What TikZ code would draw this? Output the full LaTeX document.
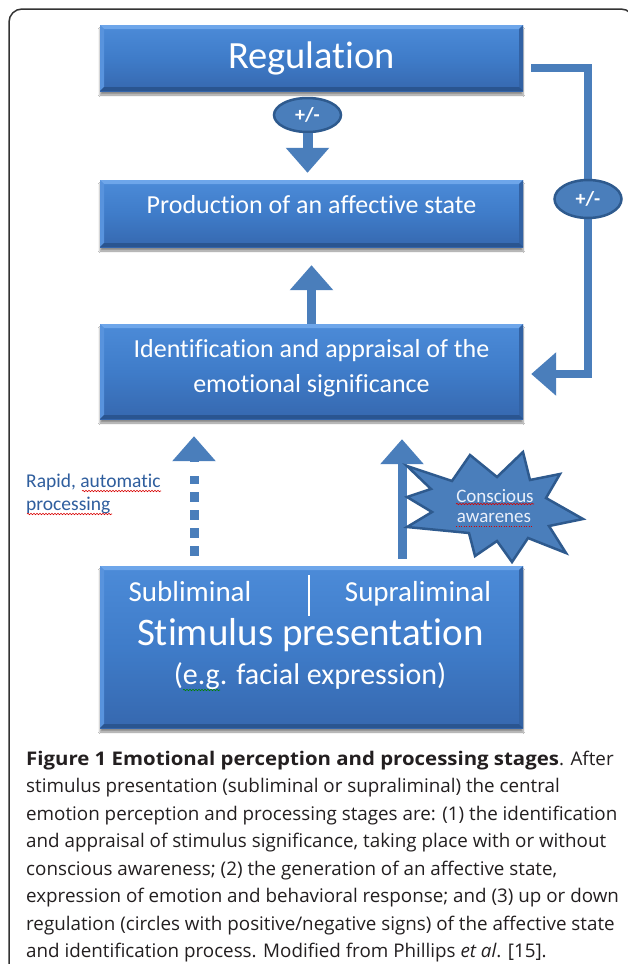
\documentclass[tikz,border=0pt]{standalone}
\usepackage{graphicx}
\usepackage{fontspec}
\setmainfont{Carlito}[Ligatures=NoCommon]
\newfontfamily\capfont{Open Sans}
\usetikzlibrary{arrows.meta,shapes.geometric,shadows.blur,decorations.pathmorphing,calc}
\definecolor{boxtop}{HTML}{4C8BD8}
\definecolor{boxmid}{HTML}{3F7CC9}
\definecolor{boxbot}{HTML}{3668AF}
\definecolor{bevlight}{HTML}{6EA6EA}
\definecolor{bevleft}{HTML}{5893DD}
\definecolor{bevright}{HTML}{3262A4}
\definecolor{bevdark}{HTML}{2A5590}
\definecolor{arrowblue}{HTML}{4A7EBB}
\definecolor{ellline}{HTML}{2E5A8E}
\definecolor{textblue}{HTML}{2F5E9E}
\definecolor{captext}{HTML}{231F20}
\definecolor{framegray}{HTML}{333333}
\definecolor{startext}{HTML}{EAF0FA}
\tikzset{
  bbox/.style={rectangle, inner sep=0pt, minimum width=423pt,
    top color=boxtop, bottom color=boxbot, middle color=boxmid,
    blur shadow={shadow xshift=0pt, shadow yshift=-4pt, shadow opacity=45, shadow blur steps=6},
    path picture={
      \fill[bevlight] (path picture bounding box.north west) -- (path picture bounding box.north east)
        -- ([xshift=-4pt,yshift=-4pt]path picture bounding box.north east)
        -- ([xshift=4pt,yshift=-4pt]path picture bounding box.north west) -- cycle;
      \fill[bevleft] (path picture bounding box.north west) -- ([xshift=4pt,yshift=-4pt]path picture bounding box.north west)
        -- ([xshift=4pt,yshift=4pt]path picture bounding box.south west)
        -- (path picture bounding box.south west) -- cycle;
      \fill[bevright] (path picture bounding box.north east) -- ([xshift=-4pt,yshift=-4pt]path picture bounding box.north east)
        -- ([xshift=-4pt,yshift=4pt]path picture bounding box.south east)
        -- (path picture bounding box.south east) -- cycle;
      \fill[bevdark] (path picture bounding box.south west) -- (path picture bounding box.south east)
        -- ([xshift=-4pt,yshift=4pt]path picture bounding box.south east)
        -- ([xshift=4pt,yshift=4pt]path picture bounding box.south west) -- cycle;
    }},
  wtxt/.style={text=white, inner sep=0pt, anchor=base},
  fatarrow/.style={draw=arrowblue, line width=9pt, -{Triangle[width=42pt,length=25pt]}},
  dashshaft/.style={draw=arrowblue, line width=9pt, dash pattern=on 10pt off 8pt},
  pmell/.style={ellipse, fill=arrowblue, draw=ellline, line width=2.5pt, inner sep=0pt,
    minimum width=67pt, text=white, font=\bfseries\fontsize{20}{22}\selectfont},
  burst/.style={fill=arrowblue, draw=ellline, line width=2.5pt, line join=miter},
  redwave/.style={draw=red!85!black, line width=0.6pt, decorate,
    decoration={snake, segment length=3pt, amplitude=0.7pt}},
  greenwave/.style={draw=green!50!black, line width=0.6pt, decorate,
    decoration={snake, segment length=3pt, amplitude=0.7pt}},
  reddots/.style={draw=red!85!black, line width=0.8pt, dash pattern=on 1pt off 1.5pt},
  captxt/.style={anchor=base west, inner sep=0pt, text=captext, font=\capfont\fontsize{18.8}{22}\selectfont},
  bluetxt/.style={anchor=base west, inner sep=0pt, text=textblue, font=\fontsize{19.5}{22}\selectfont},
  frame/.style={draw=framegray, line width=1.5pt, rounded corners=13pt}
}
\begin{document}
\begin{tikzpicture}[x=1pt,y=-1pt]
\useasboundingbox (0,0) rectangle (627,964);
\fill[white] (0,0) rectangle (627,964);
\draw[frame] (9,9) rectangle (634,1000);

% boxes
\node[bbox, minimum height=66pt] (reg) at (311.5,58) {};
\node[bbox, minimum height=67pt] (prod) at (311.5,213.5) {};
\node[bbox, minimum height=95pt] (ident) at (311.5,371.5) {};
\node[bbox, minimum height=162pt] (stim) at (311.5,647) {};

% box texts
\node[wtxt, font=\fontsize{38.5}{40}\selectfont] (regtxt) at (311.5,68) {Regulation};
\node[wtxt, font=\fontsize{26}{28}\selectfont] (prodtxt) at (311.5,213) {Production of an affective state};
\node[wtxt, font=\fontsize{26}{28}\selectfont] (idtxta) at (311.5,357) {Identification and appraisal of the};
\node[wtxt, font=\fontsize{26}{28}\selectfont] (idtxtb) at (311.5,392) {emotional significance};
\node[wtxt, font=\fontsize{29}{32}\selectfont] (subtxt) at (190,601) {Subliminal};
\node[wtxt, font=\fontsize{29}{32}\selectfont] (suptxt) at (418,601) {Supraliminal};
\draw[white, line width=1.5pt] (309,575) -- (309,616);
\node[wtxt, font=\fontsize{39}{41}\selectfont] (stimtxt) at (310.5,645) {Stimulus presentation};
\node[wtxt, font=\fontsize{30}{32}\selectfont] (egtxt) at (310,684) {(e.g. facial expression)};
\draw[greenwave] (183,690) -- (220,690);

% ellipse 1 and arrow down
\node[pmell, minimum height=34pt] (e1) at (307.5,115) {+/-};
\draw[fatarrow, line width=10pt, shorten >=7pt] (e1.south) -- (e1.south |- prod.north);

% arrow up from identification to production
\draw[fatarrow, shorten >=18pt] (ident.north) -- (prod.south);

% regulation feedback connector
\coordinate (r2) at (588,68);
\coordinate (r3) at (588,374);
\draw[fatarrow, line width=8pt, shorten <=8pt, shorten >=8pt]
  (reg.east |- r2) -- (r2) -- (r3) -- (ident.east |- r3);
\node[pmell, minimum height=38pt] (e2) at (588,199) {+/-};

% dashed subliminal arrow
\coordinate (dx) at (194,0);
\draw[dashshaft, shorten <=10pt, shorten >=57pt] (stim.north -| dx) -- (ident.south -| dx);
\draw[fatarrow, shorten <=104pt, shorten >=17pt] (stim.north -| dx) -- (ident.south -| dx);

% solid supraliminal arrow
\coordinate (sx) at (402,0);
\draw[fatarrow, shorten <=7pt, shorten >=20pt] (stim.north -| sx) -- (ident.south -| sx);

% starburst
\draw[burst] (407,466) -- (452,481) -- (470,455) -- (497,477) -- (523,452) -- (530,480)
  -- (560,474) -- (546,498) -- (583,519) -- (549,526) -- (566,553) -- (528,538)
  -- (512,562) -- (497,541) -- (475,556) -- (469,533) -- (407,527) -- (432,512)
  -- (407,497) -- (431,489) -- cycle;
\node[anchor=base, inner sep=0pt, text=startext, font=\fontsize{19}{21}\selectfont] (constxt) at (495,502) {Conscious};
\node[anchor=base, inner sep=0pt, text=startext, font=\fontsize{19}{21}\selectfont] (awatxt) at (494,522) {awarenes};
\draw[redwave] (456,504) -- (534,504);
\draw[reddots] (456,526) -- (532,526);

% rapid processing label
\node[bluetxt] (rapa) at (26,487) {Rapid, automatic};
\node[bluetxt] (rapb) at (26,510) {processing};
\draw[redwave] (82,491) -- (161,491);
\draw[redwave] (27,514) -- (112,514);

% caption
\node[captxt] (capa) at (26,765) {\scalebox{1.085}[1]{\textbf{Figure 1 Emotional perception and processing stages}}. After};
\node[captxt] (capb) at (26,792.5) {stimulus presentation (subliminal or supraliminal) the central};
\node[captxt] (capc) at (26,820) {emotion perception and processing stages are: (1) the identification};
\node[captxt] (capd) at (26,847.5) {and appraisal of stimulus significance, taking place with or without};
\node[captxt] (cape) at (26,875) {conscious awareness; (2) the generation of an affective state,};
\node[captxt] (capf) at (26,902.5) {expression of emotion and behavioral response; and (3) up or down};
\node[captxt] (capg) at (26,930) {regulation (circles with positive/negative signs) of the affective state};
\node[captxt] (caph) at (26,957.5) {and identification process. Modified from Phillips \textit{et al}. [15].};
\end{tikzpicture}
\end{document}
